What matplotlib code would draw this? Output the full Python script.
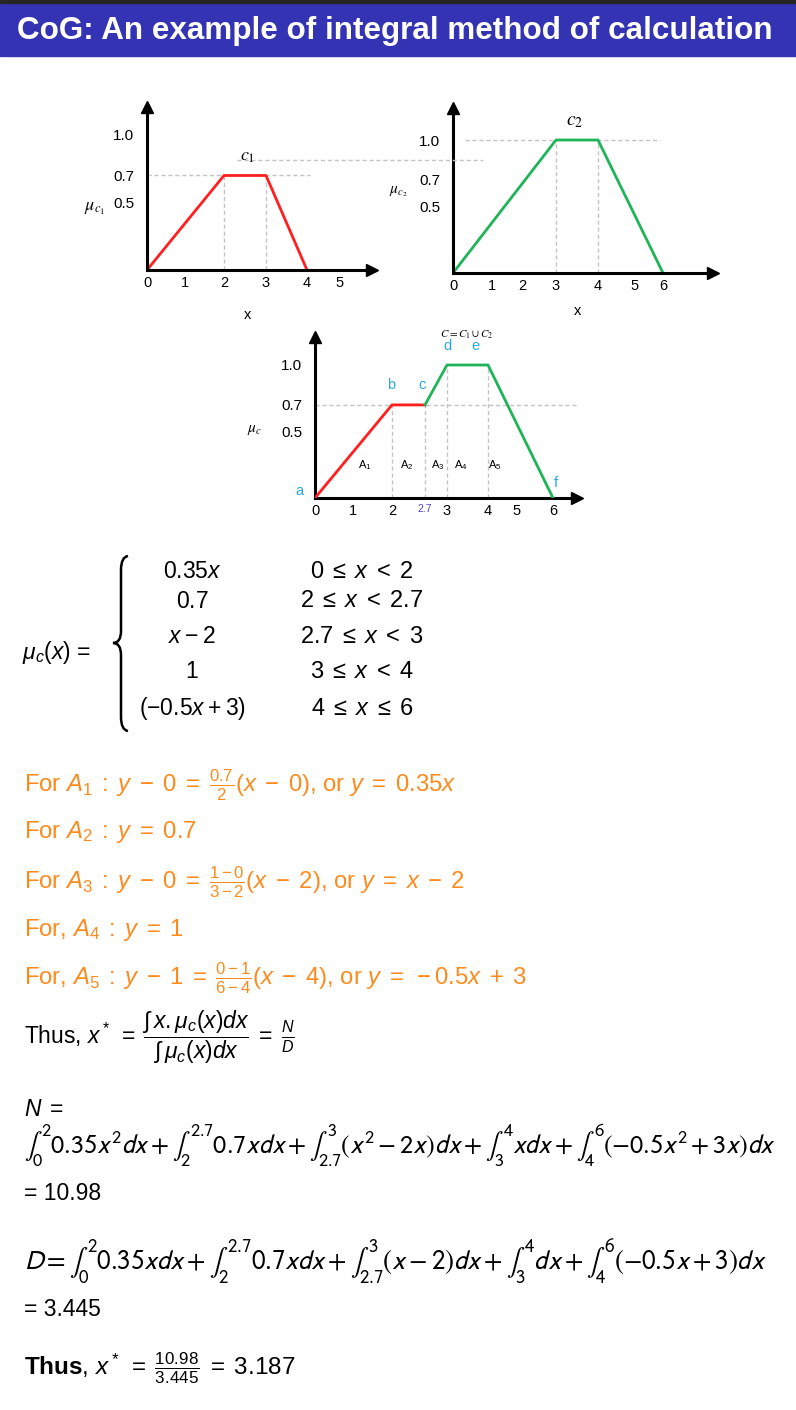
import numpy as np
import matplotlib.pyplot as plt
from matplotlib.patches import Rectangle, PathPatch
from matplotlib.path import Path
from matplotlib.lines import Line2D

# membership functions (vertices)
c1_x = [0, 2, 3, 4]
c1_y = [0, 0.7, 0.7, 0]
c2_x = [0, 3, 4, 6]
c2_y = [0, 1.0, 1.0, 0]
# union C = C1 u C2, red part then green part
cr_x = [0, 2, 2.7]
cr_y = [0, 0.7, 0.7]
cg_x = [2.7, 3, 4, 6]
cg_y = [0.7, 1.0, 1.0, 0]
pt_names = ['a', 'b', 'c', 'd', 'e', 'f']
pt_x = [0, 2, 2.7, 3, 4, 6]
pt_y = [0, 0.7, 0.7, 1.0, 1.0, 0]
area_names = ['A$_1$', 'A$_2$', 'A$_3$', 'A$_4$', 'A$_5$']
area_x = [1.3, 2.32, 2.88, 3.34, 4.24]
area_y = 0.25

c1_xticks = [0, 1, 2, 3, 4, 5]
c2_xticks = [0, 1, 2, 3, 4, 5, 6]
c_xticks = [0, 1, 2, 2.7, 3, 4, 5, 6]
c_xticklabels = ['0', '1', '2', '2.7', '3', '4', '5', '6']
yticks = [0.5, 0.7, 1.0]
ytick_labels = ['0.5', '0.7', '1.0']

RED = '#ff1f1f'
GREEN = '#1fb457'
ORANGE = '#ff8a1c'
CYAN = '#27a9e6'
GRID = '#c4c4c4'

W, H = 796, 1410
plt.rcParams['font.family'] = ['Liberation Sans', 'DejaVu Sans']
plt.rcParams['mathtext.fontset'] = 'custom'
plt.rcParams['mathtext.rm'] = 'Liberation Sans'
plt.rcParams['mathtext.it'] = 'Liberation Sans:italic'
plt.rcParams['mathtext.bf'] = 'Liberation Sans:bold'
plt.rcParams['mathtext.sf'] = 'Liberation Sans'

fig = plt.figure(figsize=(W / 100, H / 100), dpi=100)


def fx(px):
    return px / W


def fy(py):
    return 1 - py / H


def txt(px, py, s, **kw):
    kw.setdefault('va', 'center')
    return fig.text(fx(px), fy(py), s, **kw)


# title bar
fig.patches.append(Rectangle((0, fy(56)), 1, 56 / H, transform=fig.transFigure,
                             color='#3333b3', zorder=0))
fig.patches.append(Rectangle((0, fy(3)), 1, 3 / H, transform=fig.transFigure,
                             color='#262626', zorder=1))
txt(17, 31, 'CoG: An example of integral method of calculation', color='white',
    fontsize=22.6, fontweight='bold')


def make_axes(knots, px_knots, y0, sy, ymax):
    d = np.asarray(knots, float)
    p = np.asarray(px_knots, float) - px_knots[0]
    left = px_knots[0]
    width = px_knots[-1] - px_knots[0]
    ax = fig.add_axes([fx(left), fy(y0), width / W, ymax * sy / H])
    ax.set_xscale('function', functions=(lambda v: np.interp(v, d, p),
                                         lambda v: np.interp(v, p, d)))
    ax.set_xlim(d[0], d[-1])
    ax.set_ylim(0, ymax)
    ax.patch.set_alpha(0)
    for s in ['top', 'right']:
        ax.spines[s].set_visible(False)
    for s in ['left', 'bottom']:
        ax.spines[s].set_linewidth(2.2)
    ax.plot(1, 0, '>k', ms=9, transform=ax.get_yaxis_transform(), clip_on=False)
    ax.plot(0, 1, '^k', ms=9, transform=ax.get_xaxis_transform(), clip_on=False)
    ax.set_yticks(yticks)
    ax.set_yticklabels(ytick_labels)
    ax.set_yticks([1.0], minor=True)
    ax.tick_params(axis='y', which='major', length=0, pad=9, labelsize=11)
    ax.tick_params(axis='y', which='minor', direction='inout', length=12, width=2)
    ax.tick_params(axis='x', which='both', length=0, pad=4, labelsize=10.5)
    return ax


def dash(ax, xs, ys):
    ax.plot(xs, ys, color=GRID, lw=1, ls=(0, (3, 2)), zorder=1, clip_on=False)


# chart C1
ax1 = make_axes([0, 1, 2, 3, 4, 5, 5.7], [147, 185, 224, 266, 307, 340, 372], 270, 135, 1.21)
ax1.set_xticks(c1_xticks)
dash(ax1, [0, 4.1], [0.7, 0.7])
for v in [2, 3]:
    dash(ax1, [v, v], [0, 0.7])
ax1.plot(c1_x, c1_y, color=RED, lw=2)
txt(248, 157, '$c_1$', ha='center', fontsize=13, math_fontfamily='stix')
txt(95, 208, r'$\mu_{c_1}$', ha='center', fontsize=13, math_fontfamily='stix')
txt(248, 315, 'x', ha='center', fontsize=10.5)

# stray guide line across both top charts
fig.add_artist(Line2D([fx(237), fx(483)], [fy(160), fy(160)], color=GRID, lw=1,
                      ls=(0, (3, 2))))

# chart C2
ax2 = make_axes([0, 1, 2, 3, 4, 5, 6, 7.4], [453, 492, 522, 556, 598, 635, 663, 713], 273, 133, 1.24)
ax2.set_xticks(c2_xticks)
dash(ax2, [0.31, 5.9], [1, 1])
for v in [3, 4]:
    dash(ax2, [v, v], [0, 1])
ax2.plot(c2_x, c2_y, color=GREEN, lw=2)
txt(575, 122, '$c_2$', ha='center', fontsize=14, math_fontfamily='stix')
txt(398, 192, r'$\mu_{c_2}$', ha='center', fontsize=11, math_fontfamily='stix')
txt(578, 311, 'x', ha='center', fontsize=10.5)

# chart C = C1 u C2
ax3 = make_axes([0, 1, 2, 2.7, 3, 4, 5, 6, 6.6], [315, 353, 392, 425, 447, 488, 517, 553, 577], 498, 133, 1.21)
ax3.set_xticks(c_xticks)
ax3.set_xticklabels(c_xticklabels)
lab = ax3.get_xticklabels()[3]
lab.set_color('#4b3fe0')
lab.set_fontsize(7.5)
dash(ax3, [0, 6.6], [0.7, 0.7])
for xv, yv in zip(pt_x[1:5], pt_y[1:5]):
    dash(ax3, [xv, xv], [0, yv])
ax3.plot(cr_x, cr_y, color=RED, lw=2, zorder=3)
ax3.plot(cg_x, cg_y, color=GREEN, lw=2, zorder=3)
offs = [(-11, 0), (-1, 9), (-2, 9), (0, 9), (-9, 9), (2, 6)]
for n, xv, yv, o in zip(pt_names, pt_x, pt_y, offs):
    ax3.annotate(n, (xv, yv), xytext=o, textcoords='offset points', ha='center',
                 va='bottom', color=CYAN, fontsize=10.5, annotation_clip=False)
for n, xv in zip(area_names, area_x):
    ax3.text(xv, area_y, n, ha='center', va='center', fontsize=8)
txt(467, 335, r'$C = C_1 \cup C_2$', ha='center', fontsize=8, math_fontfamily='stix')
txt(255, 430, r'$\mu_c$', ha='center', fontsize=11, math_fontfamily='stix')

# piecewise definition
txt(22, 652, r'$\mu_c(x)$ =', fontsize=16.5)
bx = [128, 121, 121, 121, 121, 113, 121, 121, 121, 121, 128]
by = [556, 557, 570, 631, 643, 643, 643, 655, 717, 730, 731]
codes = [Path.MOVETO, Path.CURVE3, Path.CURVE3, Path.LINETO, Path.CURVE3, Path.CURVE3,
         Path.CURVE3, Path.CURVE3, Path.LINETO, Path.CURVE3, Path.CURVE3]
brace = Path([(fx(a), fy(b)) for a, b in zip(bx, by)], codes)
fig.add_artist(PathPatch(brace, transform=fig.transFigure, fill=False, lw=1.8, color='black'))
rows_f = [r'$0.35x$', r'$0.7$', r'$x\:-\:2$', r'$1$', r'$(-0.5x\:+\:3)$']
rows_c = [r'$0 \;\leq\; x \;<\; 2$', r'$2 \;\leq\; x \;<\; 2.7$', r'$2.7 \;\leq\; x \;<\; 3$',
          r'$3 \;\leq\; x \;<\; 4$', r'$4 \;\leq\; x \;\leq\; 6$']
for yy, a, b in zip([572, 601, 637, 672, 709], rows_f, rows_c):
    txt(192, yy, a, ha='center', fontsize=16.5)
    txt(362, yy, b, ha='center', fontsize=17)

# straight line equations
lines = [
    (785, r'For $A_1\;:\;y\;-\;0\;=\;\frac{0.7}{2}(x\;-\;0)$, or $y\;=\;0.35x$'),
    (832, r'For $A_2\;:\;y\;=\;0.7$'),
    (882, r'For $A_3\;:\;y\;-\;0\;=\;\frac{1-0}{3-2}(x\;-\;2)$, or $y\;=\;x\;-\;2$'),
    (930, r'For, $A_4\;:\;y\;=\;1$'),
    (978, r'For, $A_5\;:\;y\;-\;1\;=\;\frac{0-1}{6-4}(x\;-\;4)$, or $y\;=\;-0.5x\;+\;3$'),
]
for yy, s in lines:
    txt(24, yy, s, color=ORANGE, fontsize=17.2)
txt(24, 1037, r'Thus, $x^*\;=\;\dfrac{\int\, x.\mu_c(x)dx}{\int\, \mu_c(x)dx}\;=\;\frac{N}{D}$',
    fontsize=16.5)

txt(24, 1110, r'$N\;=$', fontsize=16.5)
txt(24, 1145, r'$\int_0^2 0.35x^2dx+\int_2^{2.7} 0.7xdx+\int_{2.7}^3(x^2-2x)dx+\int_3^4 xdx+\int_4^6(-0.5x^2+3x)dx$',
    fontsize=18.8, math_fontfamily='stixsans')
txt(24, 1194, '= 10.98', fontsize=16.5)
txt(24, 1262, r'$D = \int_0^2 0.35xdx+\int_2^{2.7} 0.7xdx+\int_{2.7}^3(x-2)dx+\int_3^4 dx+\int_4^6(-0.5x+3)dx$',
    fontsize=19.4, math_fontfamily='stixsans')
txt(24, 1310, '= 3.445', fontsize=16.5)
txt(24, 1368, r'$\mathbf{Thus}$, $x^*\;=\;\frac{10.98}{3.445}\;=\;3.187$', fontsize=17.5)

fig.savefig('out.png', dpi=100)
